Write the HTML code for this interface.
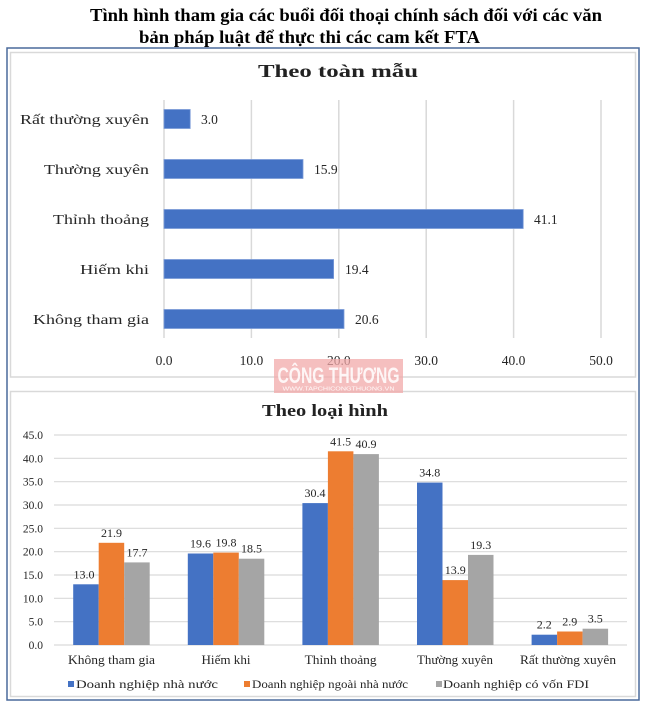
<!DOCTYPE html>
<html><head><meta charset="utf-8"><style>
html,body{margin:0;padding:0;background:#fff;}
svg{display:block;}
text{font-family:"Liberation Serif","Noto Serif CJK SC",serif;}
</style></head><body>
<svg width="649" height="705" viewBox="0 0 649 705" xmlns="http://www.w3.org/2000/svg">
<rect width="649" height="705" fill="#fff"/>
<!-- main title -->
<text x="90" y="21" font-size="17.5" font-weight="bold" fill="#000" textLength="512" lengthAdjust="spacingAndGlyphs">Tình hình tham gia các buổi đối thoại chính sách đối với các văn</text>
<text x="139" y="43" font-size="17.5" font-weight="bold" fill="#000" textLength="341" lengthAdjust="spacingAndGlyphs">bản pháp luật để thực thi các cam kết FTA</text>
<!-- outer frame -->
<rect x="7" y="48" width="632" height="652" fill="none" stroke="#4a6a9c" stroke-width="1.5"/>
<!-- panels -->
<rect x="10.5" y="52.5" width="625" height="324.5" fill="#fff" stroke="#d9d9d9" stroke-width="1.5"/>
<rect x="10.5" y="391.5" width="625" height="305" fill="#fff" stroke="#d9d9d9" stroke-width="1.5"/>

<!-- TOP CHART -->
<text x="258" y="77" font-size="18" font-weight="bold" fill="#222" textLength="160" lengthAdjust="spacingAndGlyphs">Theo toàn mẫu</text>
<g stroke="#d9d9d9" stroke-width="1.5">
<line x1="164" y1="100" x2="164" y2="338"/>
<line x1="251.4" y1="100" x2="251.4" y2="338"/>
<line x1="338.8" y1="100" x2="338.8" y2="338"/>
<line x1="426.2" y1="100" x2="426.2" y2="338"/>
<line x1="513.6" y1="100" x2="513.6" y2="338"/>
<line x1="601" y1="100" x2="601" y2="338"/>
</g>
<g fill="#4472c4" stroke="#7b9bd8" stroke-width="0.8">
<rect x="164" y="109.5" width="26.2" height="19"/>
<rect x="164" y="159.5" width="139" height="19"/>
<rect x="164" y="209.5" width="359.2" height="19"/>
<rect x="164" y="259.5" width="169.6" height="19"/>
<rect x="164" y="309.5" width="180" height="19"/>
</g>
<g font-size="14" fill="#262626">
<text x="149" y="124" text-anchor="end" textLength="129" lengthAdjust="spacingAndGlyphs">Rất thường xuyên</text>
<text x="149" y="174" text-anchor="end" textLength="105" lengthAdjust="spacingAndGlyphs">Thường xuyên</text>
<text x="149" y="224" text-anchor="end" textLength="96" lengthAdjust="spacingAndGlyphs">Thỉnh thoảng</text>
<text x="149" y="274" text-anchor="end" textLength="69" lengthAdjust="spacingAndGlyphs">Hiếm khi</text>
<text x="149" y="324" text-anchor="end" textLength="116" lengthAdjust="spacingAndGlyphs">Không tham gia</text>
</g>
<g font-size="13.5" fill="#262626">
<text x="201" y="124">3.0</text>
<text x="314" y="174">15.9</text>
<text x="534" y="224">41.1</text>
<text x="345" y="274">19.4</text>
<text x="355" y="324">20.6</text>
</g>
<g font-size="13.5" fill="#262626" text-anchor="middle">
<text x="164" y="365">0.0</text>
<text x="251.4" y="365">10.0</text>
<text x="338.8" y="365">20.0</text>
<text x="426.2" y="365">30.0</text>
<text x="513.6" y="365">40.0</text>
<text x="601" y="365">50.0</text>
</g>

<!-- BOTTOM CHART -->
<text x="262" y="416" font-size="16.5" font-weight="bold" fill="#222" textLength="126" lengthAdjust="spacingAndGlyphs">Theo loại hình</text>
<g stroke="#d9d9d9" stroke-width="1.2">
<line x1="54" y1="435" x2="627" y2="435"/>
<line x1="54" y1="458.3" x2="627" y2="458.3"/>
<line x1="54" y1="481.7" x2="627" y2="481.7"/>
<line x1="54" y1="505" x2="627" y2="505"/>
<line x1="54" y1="528.3" x2="627" y2="528.3"/>
<line x1="54" y1="551.7" x2="627" y2="551.7"/>
<line x1="54" y1="575" x2="627" y2="575"/>
<line x1="54" y1="598.3" x2="627" y2="598.3"/>
<line x1="54" y1="621.7" x2="627" y2="621.7"/>
<line x1="54" y1="645" x2="627" y2="645"/>
</g>
<g font-size="11.5" fill="#262626" text-anchor="end">
<text x="43" y="439">45.0</text>
<text x="43" y="462.3">40.0</text>
<text x="43" y="485.7">35.0</text>
<text x="43" y="509">30.0</text>
<text x="43" y="532.3">25.0</text>
<text x="43" y="555.7">20.0</text>
<text x="43" y="579">15.0</text>
<text x="43" y="602.3">10.0</text>
<text x="43" y="625.7">5.0</text>
<text x="43" y="649">0.0</text>
</g>
<g>
<rect x="73.2" y="584.3" width="25.5" height="60.7" fill="#4472c4"/>
<rect x="98.7" y="542.8" width="25.5" height="102.2" fill="#ed7d31"/>
<rect x="124.2" y="562.4" width="25.5" height="82.6" fill="#a5a5a5"/>
<rect x="187.8" y="553.5" width="25.5" height="91.5" fill="#4472c4"/>
<rect x="213.3" y="552.6" width="25.5" height="92.4" fill="#ed7d31"/>
<rect x="238.8" y="558.7" width="25.5" height="86.3" fill="#a5a5a5"/>
<rect x="302.4" y="503.1" width="25.5" height="141.9" fill="#4472c4"/>
<rect x="327.9" y="451.3" width="25.5" height="193.7" fill="#ed7d31"/>
<rect x="353.4" y="454.1" width="25.5" height="190.9" fill="#a5a5a5"/>
<rect x="417" y="482.6" width="25.5" height="162.4" fill="#4472c4"/>
<rect x="442.5" y="580.1" width="25.5" height="64.9" fill="#ed7d31"/>
<rect x="468" y="554.9" width="25.5" height="90.1" fill="#a5a5a5"/>
<rect x="531.6" y="634.7" width="25.5" height="10.3" fill="#4472c4"/>
<rect x="557.1" y="631.5" width="25.5" height="13.5" fill="#ed7d31"/>
<rect x="582.6" y="628.7" width="25.5" height="16.3" fill="#a5a5a5"/>
</g>
<g font-size="12" fill="#262626" text-anchor="middle">
<text x="84" y="578.3">13.0</text>
<text x="111.5" y="536.8">21.9</text>
<text x="137" y="556.4">17.7</text>
<text x="200.5" y="547.5">19.6</text>
<text x="226" y="546.6">19.8</text>
<text x="251.5" y="552.7">18.5</text>
<text x="315" y="497.1">30.4</text>
<text x="340.6" y="445.3">41.5</text>
<text x="366" y="448.1">40.9</text>
<text x="429.7" y="476.6">34.8</text>
<text x="455.2" y="574.1">13.9</text>
<text x="480.7" y="548.9">19.3</text>
<text x="544.3" y="628.7">2.2</text>
<text x="569.8" y="625.5">2.9</text>
<text x="595.3" y="622.7">3.5</text>
</g>
<g font-size="12.5" fill="#262626" text-anchor="middle">
<text x="111.5" y="664" textLength="87" lengthAdjust="spacingAndGlyphs">Không tham gia</text>
<text x="226" y="664" textLength="49" lengthAdjust="spacingAndGlyphs">Hiếm khi</text>
<text x="340.6" y="664" textLength="72" lengthAdjust="spacingAndGlyphs">Thỉnh thoảng</text>
<text x="455" y="664" textLength="76" lengthAdjust="spacingAndGlyphs">Thường xuyên</text>
<text x="568" y="664" textLength="96" lengthAdjust="spacingAndGlyphs">Rất thường xuyên</text>
</g>
<!-- legend -->
<rect x="68" y="681" width="6" height="6" fill="#4472c4"/>
<text x="76" y="688" font-size="12" fill="#262626" textLength="142" lengthAdjust="spacingAndGlyphs">Doanh nghiệp nhà nước</text>
<rect x="244" y="681" width="6" height="6" fill="#ed7d31"/>
<text x="252" y="688" font-size="12" fill="#262626" textLength="156" lengthAdjust="spacingAndGlyphs">Doanh nghiệp ngoài nhà nước</text>
<rect x="436" y="681" width="6" height="6" fill="#a5a5a5"/>
<text x="443" y="688" font-size="12" fill="#262626" textLength="146" lengthAdjust="spacingAndGlyphs">Doanh nghiệp có vốn FDI</text>

<!-- watermark -->
<rect x="274" y="359" width="129" height="34" fill="#f2a9a9" opacity="0.75"/>
<text x="338.5" y="383" style="font-family:'Liberation Sans',sans-serif;" font-size="22" font-weight="bold" fill="#fff" fill-opacity="0.85" text-anchor="middle" textLength="122" lengthAdjust="spacingAndGlyphs">CÔNG THƯƠNG</text>
<text x="338.5" y="390.5" style="font-family:'Liberation Sans',sans-serif;" font-size="5.5" fill="#fff" fill-opacity="0.9" text-anchor="middle" textLength="112" lengthAdjust="spacingAndGlyphs">WWW.TAPCHICONGTHUONG.VN</text>
</svg>
</body></html>
